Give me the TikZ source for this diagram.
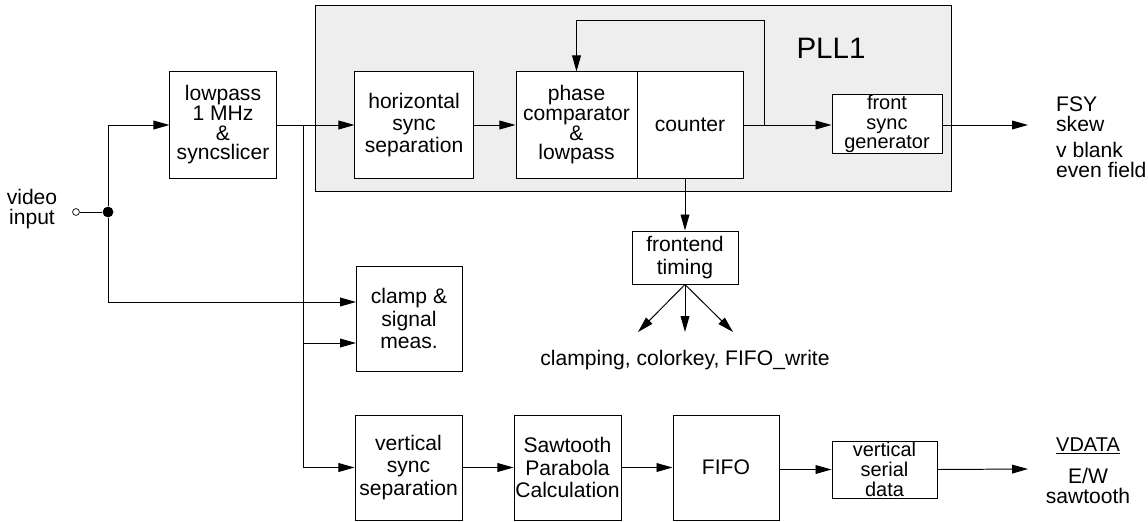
\documentclass[tikz,border=0pt]{standalone}
\usepackage{fontspec}
\setmainfont{Liberation Sans}
\usepackage{tikz}
\usetikzlibrary{arrows.meta,positioning}
\definecolor{pllgray}{HTML}{EEEEEE}

\begin{document}
\begin{tikzpicture}[x=0.025cm,y=-0.025cm,line width=0.7pt,
  font=\fontsize{15}{15.8}\selectfont]

\tikzset{
blk/.style={
    draw,
    fill=white,
    inner sep=0pt,
    align=center
},
tight/.style={
    font=\fontsize{15}{14}\selectfont
},
small/.style={
    font=\fontsize{14.2}{14}\selectfont
},
arr/.style={-{Triangle[length=4mm,width=2.2mm]}}
}

\useasboundingbox (0,0) rectangle (1148,521);

% PLL1 frame
\node[draw,fill=pllgray,minimum width=15.875cm,minimum height=4.625cm] (pll) at (633.5,98.5) {};
\node[font=\fontsize{21}{21}\selectfont] (plltitle) at (831,48) {PLL1};

% top row
\node[blk,tight,minimum width=2.65cm,minimum height=2.65cm] (lowpass) at (223,125) {lowpass\\1 MHz\\\&\\syncslicer};
\node[blk,minimum width=2.95cm,minimum height=2.65cm] (hsync) at (414,125) {horizontal\\sync\\separation};
\node[blk,tight,minimum width=3.025cm,minimum height=2.65cm] (phase) at (576.5,125) {phase\\comparator\\\&\\lowpass};
\node[blk,minimum width=2.65cm,minimum height=2.65cm] (counter) at (690,125) {counter};
\node[blk,small,minimum width=2.75cm,minimum height=1.475cm] (fsg) at (887,124) {front\\sync\\generator};

% middle
\node[blk,minimum width=2.65cm,minimum height=1.325cm] (frontend) at (685,257.5) {frontend\\timing};
\node[blk,minimum width=2.65cm,minimum height=2.625cm] (clamp) at (409,318.5) {clamp \&\\signal\\meas.};
\node (timing) at (685,360) {clamping, colorkey, FIFO\_write};

% bottom row
\node[blk,minimum width=2.675cm,minimum height=2.625cm] (vsync) at (408.5,467.5) {vertical\\sync\\separation};
\node[blk,minimum width=2.675cm,minimum height=2.625cm] (saw) at (567.5,467.5) {Sawtooth\\Parabola\\Calculation};
\node[blk,minimum width=2.65cm,minimum height=2.625cm] (fifo) at (726,467.5) {FIFO};
\node[blk,small,minimum width=2.625cm,minimum height=1.425cm] (vsd) at (884.5,469.5) {vertical\\serial\\data};

% input
\node[draw,circle,fill=white,inner sep=0pt,minimum size=0.17cm,line width=0.5pt] (vin) at (76,212) {};
\node[fill=black,circle,inner sep=0pt,minimum size=0.27cm] (jdot) at (108,212) {};
\node[align=center,font=\fontsize{15}{14}\selectfont] (vinlabel) at (32,209) {video\\input};

% outputs
\node[align=left,anchor=west,font=\fontsize{15}{14}\selectfont] (fsy) at (1051,114) {FSY\\skew};
\node[align=left,anchor=west,font=\fontsize{15}{14}\selectfont] (vblank) at (1051,160) {v blank\\even field};
\node[font=\fontsize{14.2}{14}\selectfont] (vdata) at (1088,446) {\underline{VDATA}};
\node[align=center,font=\fontsize{15}{14}\selectfont] (ew) at (1088,486) {E/W\\sawtooth};

\coordinate (br) at (303,125);
\coordinate (fb) at (764,125);
\coordinate (clampin1) at (356,302);
\coordinate (clampin2) at (356,343);
\coordinate (fsyout) at (1028,125);
\coordinate (vdataout) at (1028,469);
\coordinate (tA) at (638,332);
\coordinate (tB) at (685,332);
\coordinate (tC) at (733,332);

\draw (vin) -- (jdot);
\draw[arr] (jdot) |- (lowpass.west);
\draw[arr] (jdot) |- (clampin1);
\draw[arr] (lowpass.east) -- (hsync.west);
\draw[arr] (br) |- (clampin2);
\draw[arr] (br) |- (vsync.west);
\draw[arr] (hsync) -- (phase);
\draw[arr] (fb) -- ++(0,-105) -| (phase.north);
\draw[arr] (counter.east) -- (counter.east -| fsg.west);
\draw[arr] (fsg.east |- fsyout) -- (fsyout);
\draw[arr] (frontend.north |- counter.south) -- (frontend.north);
\foreach \t in {tA,tB,tC}
  \draw[arr] (frontend.south) -- (\t);

\draw[arr] (vsync) -- (saw);
\draw[arr] (saw) -- (fifo);
\draw[arr] (fifo.east |- vsd) -- (vsd.west);
\draw[arr] (vsd.east) -- (vdataout);

\end{tikzpicture}
\end{document}
